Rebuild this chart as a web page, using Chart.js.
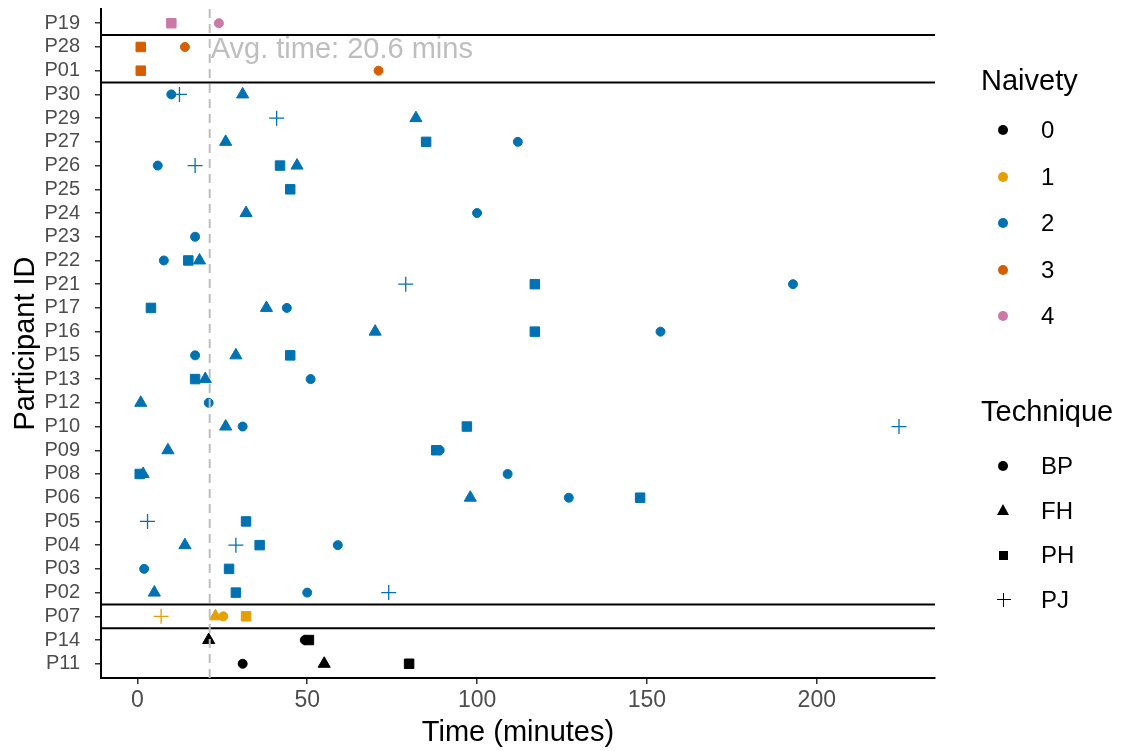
<!DOCTYPE html>
<html>
<head>
<meta charset="utf-8">
<script src="https://cdn.jsdelivr.net/npm/chart.js@4.4.0/dist/chart.umd.min.js"></script>
<style>
  html, body { margin: 0; padding: 0; background: #fff; }
  #wrap { position: relative; width: 1122px; height: 751px; font-family: "Liberation Sans", Arial, sans-serif; }
  #chart { position: absolute; left: 0; top: 0; }
  .legend-title { position: absolute; left: 981px; font-size: 29px; line-height: 1; color: #000; transform: translateY(-50%); white-space: nowrap; }
  .legend-row { position: absolute; left: 0; height: 0; width: 1122px; }
  .legend-row .lbl { position: absolute; left: 1041px; top: 0; font-size: 24px; line-height: 1; color: #000; transform: translateY(-50%); }
  .sym { position: absolute; }
  .sym.circle { left: 998px; top: -5px; width: 10px; height: 10px; border-radius: 50%; background: var(--c); }
  .sym.triangle { left: 996.5px; top: -6.5px; width: 0; height: 0; border-left: 6.5px solid transparent; border-right: 6.5px solid transparent; border-bottom: 11px solid var(--c); }
  .sym.square { left: 998.5px; top: -4.5px; width: 9px; height: 9px; background: var(--c); }
  .sym.cross { left: 996.5px; top: -7px; width: 14px; height: 14px; }
  .sym.cross::before, .sym.cross::after { content: ""; position: absolute; background: var(--c); }
  .sym.cross::before { left: 0; top: 6.4px; width: 14px; height: 1.3px; }
  .sym.cross::after { left: 6.4px; top: 0; width: 1.3px; height: 14px; }
</style>
</head>
<body>
<div id="wrap">
  <canvas id="chart" width="1122" height="751"></canvas>
</div>
<script>
// === DATOS ===
const participants = ["P19", "P28", "P01", "P30", "P29", "P27", "P26", "P25", "P24", "P23",
  "P22", "P21", "P17", "P16", "P15", "P13", "P12", "P10", "P09", "P08",
  "P06", "P05", "P04", "P03", "P02", "P07", "P14", "P11"];
const naivety = [4, 3, 3, 2, 2, 2, 2, 2, 2, 2,
  2, 2, 2, 2, 2, 2, 2, 2, 2, 2,
  2, 2, 2, 2, 2, 1, 0, 0];

// minutes per technique, aligned with participants (null = not done)
const bpTimes = [24, 14, 71, 10, null, 112, 6, null, 100, 17,
  7.8, 193, 44, 154, 17, 51, 21, 31, 89, 109,
  127, null, 59, 2, 50, 25.3, 49.3, 31];
const fhTimes = [null, null, null, 31, 82, 26, 47, null, 32, null,
  18.3, null, 38, 70, 29, 20, 1, 26, 9, 1.7,
  98, null, 14, null, 5, 23, 21, 55];
const phTimes = [10, 1, 1, null, null, 85, 42, 45, null, null,
  15, 117, 4, 117, 45, 17, null, 97, 88, 0.7,
  148, 32, 36, 27, 29, 32, 50.5, 80];
const pjTimes = [null, null, null, 12.4, 41, null, 17, null, null, null,
  null, 79, null, null, null, null, null, 224.2, null, null,
  null, 3, 29, null, 74, 7, null, null];

const naivetyLevels = ["0", "1", "2", "3", "4"];
const naivetyColors = ["#000000", "#E69F00", "#0072B2", "#D55E00", "#CC79A7"];
const techniqueNames = ["BP", "FH", "PH", "PJ"];
const xTicks = [0, 50, 100, 150, 200];

const avgLineValue = 21.3;
const avgLabel = "Avg. time: 20.6 mins";

Chart.defaults.font.family = '"Liberation Sans", Arial, sans-serif';

// === DATASETS ===
const techniques = [
  { name: "BP", times: bpTimes, style: "circle", radius: 4.5, border: 1 },
  { name: "FH", times: fhTimes, style: "triangle", radius: 7, border: 1 },
  { name: "PH", times: phTimes, style: "rect", radius: 6.7, border: 1 },
  { name: "PJ", times: pjTimes, style: "cross", radius: 7.5, border: 1.3 }
];

const colorOf = (ctx) => (ctx.raw ? naivetyColors[naivety[ctx.raw.y]] : "#000");

const datasets = techniques.map((t) => ({
  label: t.name,
  data: t.times
    .map((v, i) => (v == null ? null : { x: v, y: i }))
    .filter(Boolean),
  pointStyle: t.style,
  pointRadius: t.radius,
  pointBorderWidth: t.border,
  backgroundColor: colorOf,
  borderColor: colorOf,
  showLine: false
}));

// === LINEAS DE GRUPO + PROMEDIO ===
const overlayPlugin = {
  id: "overlay",
  afterDatasetsDraw(chart) {
    const { ctx, chartArea: a, scales: { x, y } } = chart;
    ctx.save();

    ctx.strokeStyle = "#000";
    ctx.lineWidth = 2;
    for (let i = 1; i < participants.length; i++) {
      if (naivety[i] !== naivety[i - 1]) {
        const py = y.getPixelForValue(i - 0.5);
        ctx.beginPath();
        ctx.moveTo(a.left, py);
        ctx.lineTo(a.right, py);
        ctx.stroke();
      }
    }

    const px = x.getPixelForValue(avgLineValue);
    ctx.strokeStyle = "#BEBEBE";
    ctx.lineWidth = 2;
    ctx.setLineDash([9, 6]);
    ctx.beginPath();
    ctx.moveTo(px, a.top);
    ctx.lineTo(px, a.bottom);
    ctx.stroke();
    ctx.setLineDash([]);

    ctx.fillStyle = "#BEBEBE";
    ctx.font = '29px "Liberation Sans", Arial, sans-serif';
    ctx.textAlign = "left";
    ctx.textBaseline = "middle";
    ctx.fillText(avgLabel, px + 1, y.getPixelForValue(1) + 3);
    ctx.restore();
  }
};

// === GRAFICO ===
new Chart(document.getElementById("chart"), {
  type: "scatter",
  data: { datasets },
  plugins: [overlayPlugin],
  options: {
    responsive: false,
    animation: false,
    events: [],
    layout: { padding: { top: 9, right: 187, left: 0, bottom: 0 } },
    plugins: { legend: { display: false }, tooltip: { enabled: false } },
    scales: {
      x: {
        type: "linear",
        position: "bottom",
        min: -10.7,
        max: 234.8,
        afterBuildTicks: (s) => { s.ticks = xTicks.map((v) => ({ value: v })); },
        afterFit: (s) => { s.height = 73; s.paddingLeft = 0; s.paddingRight = 0; },
        ticks: { color: "#4D4D4D", font: { size: 23 }, padding: 3, maxRotation: 0 },
        grid: { display: true, drawOnChartArea: false, tickLength: 6, color: "#333", lineWidth: 1.5 },
        border: { display: true, color: "#000", width: 2 },
        title: { display: true, text: "Time (minutes)", color: "#000", font: { size: 29 }, padding: { top: 0, bottom: 1 } }
      },
      y: {
        type: "linear",
        position: "left",
        reverse: true,
        min: -0.6,
        max: participants.length - 0.4,
        afterBuildTicks: (s) => { s.ticks = participants.map((p, i) => ({ value: i })); },
        afterFit: (s) => { s.width = 101; s.paddingTop = 0; s.paddingBottom = 0; },
        ticks: {
          color: "#4D4D4D",
          font: { size: 20 },
          padding: 15,
          autoSkip: false,
          callback: (v) => participants[v]
        },
        grid: { display: true, drawOnChartArea: false, tickLength: 6, color: "#333", lineWidth: 1.5 },
        border: { display: true, color: "#000", width: 2 },
        title: { display: true, text: "Participant ID", color: "#000", font: { size: 29 }, padding: { top: 9, bottom: 0 } }
      }
    }
  }
});

// === LEYENDA ===
const wrap = document.getElementById("wrap");

function addTitle(text, y) {
  const el = document.createElement("div");
  el.className = "legend-title";
  el.style.top = y + "px";
  el.textContent = text;
  wrap.appendChild(el);
}

function addRow(y, shape, color, label) {
  const row = document.createElement("div");
  row.className = "legend-row";
  row.style.top = y + "px";
  row.innerHTML = `<span class="sym ${shape}" style="--c:${color}"></span><span class="lbl">${label}</span>`;
  wrap.appendChild(row);
}

addTitle("Naivety", 80);
naivetyLevels.forEach((lvl, i) => addRow(130 + i * 46.5, "circle", naivetyColors[i], lvl));

const legendShapes = ["circle", "triangle", "square", "cross"];
addTitle("Technique", 411);
techniqueNames.forEach((name, i) => addRow(466 + i * 44.6, legendShapes[i], "#000", name));
</script>
</body>
</html>
